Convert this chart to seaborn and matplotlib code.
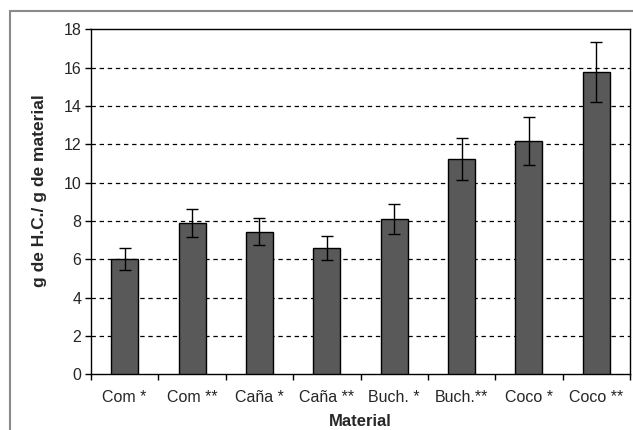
import matplotlib
matplotlib.use("Agg")
import matplotlib.pyplot as plt
from matplotlib.lines import Line2D
import seaborn as sns
import pandas as pd
import numpy as np

# Hydrocarbon uptake per gram of sorbent material
materials = ["Com *", "Com **", "Caña *", "Caña **", "Buch. *", "Buch.**", "Coco *", "Coco **"]
uptake = [6.0, 7.89, 7.45, 6.59, 8.12, 11.22, 12.17, 15.77]
std_dev = [0.58, 0.73, 0.72, 0.65, 0.78, 1.1, 1.23, 1.55]
y_ticks = [0, 2, 4, 6, 8, 10, 12, 14, 16, 18]

df = pd.DataFrame({"Material": materials, "HC": uptake})

sns.set_style("white")
plt.rcParams["font.family"] = ["Liberation Sans", "DejaVu Sans"]

W, H = 633, 430
x0, x1, y_top, y_bot = 91, 630, 29.3, 374.3
fig = plt.figure(figsize=(W / 100, H / 100), dpi=100)
ax = fig.add_axes([x0 / W, 1 - y_bot / H, (x1 - x0) / W, (y_bot - y_top) / H])

sns.barplot(data=df, x="Material", y="HC", color="#595959", edgecolor="black",
            linewidth=1.0, width=0.4, saturation=1, errorbar=None, ax=ax, zorder=3)
ax.errorbar(np.arange(len(materials)), uptake, yerr=std_dev, fmt="none",
            ecolor="black", elinewidth=1.0, capsize=4, capthick=1.0, zorder=4)

ax.set_xlim(-0.5, len(materials) - 0.5)
ax.set_ylim(0, 18)
ax.set_yticks(y_ticks)
ax.set_yticklabels([str(t) for t in y_ticks], fontsize=11.5)
ax.set_xticks(np.arange(len(materials)))
ax.set_xticklabels(materials, fontsize=11.5)
ax.set_xticks(np.arange(-0.5, len(materials)), minor=True)
ax.tick_params(axis="x", which="major", length=0, pad=11)
ax.tick_params(axis="x", which="minor", length=4, width=1, color="black", direction="out")
ax.tick_params(axis="y", length=4, width=1, color="black", direction="out", pad=3)
ax.yaxis.set_ticks_position("left")
ax.xaxis.set_ticks_position("bottom")

for t in y_ticks[1:-1]:
    ax.axhline(t, color="black", linewidth=0.9, linestyle=(0, (3.5, 3)), zorder=1)

for side in ["left", "bottom", "top", "right"]:
    ax.spines[side].set_visible(True)
    ax.spines[side].set_color("black")
    ax.spines[side].set_linewidth(1.0)

ax.set_xlabel("Material", fontsize=12, fontweight="bold", va="center")
ax.xaxis.set_label_coords(0.5, (y_bot - 421) / (y_bot - y_top))
ax.set_ylabel("g de H.C./ g de material", fontsize=12.5, fontweight="bold", va="center")
ax.yaxis.set_label_coords((40 - x0) / (x1 - x0), (y_bot - 191) / (y_bot - y_top))

# Outer chart-area border (top and left edges)
fig.add_artist(Line2D([10 / W, 1.0], [1 - 11 / H, 1 - 11 / H], color="#8a8a8a",
                      linewidth=1.5, transform=fig.transFigure))
fig.add_artist(Line2D([10 / W, 10 / W], [0.0, 1 - 11 / H], color="#8a8a8a",
                      linewidth=1.5, transform=fig.transFigure))

fig.savefig("out.png", dpi=100, facecolor="white")
